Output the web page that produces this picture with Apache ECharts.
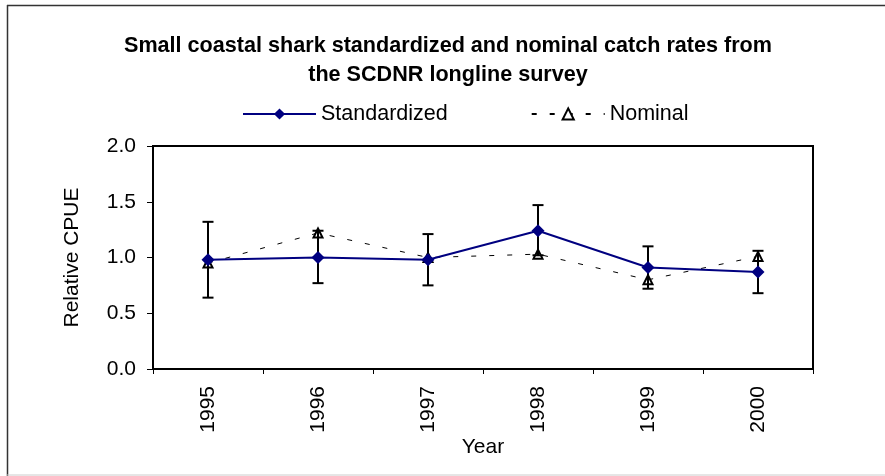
<!DOCTYPE html>
<html>
<head>
<meta charset="utf-8">
<script src="https://cdn.jsdelivr.net/npm/echarts@6/dist/echarts.min.js"></script>
<style>html,body{margin:0;padding:0;background:#fff}#c{width:885px;height:476px}</style>
</head>
<body>
<div id="c"></div>
<script>
const years = ['1995','1996','1997','1998','1999','2000'];
const standardized = [0.98, 1.00, 0.98, 1.24, 0.91, 0.87];
const stdUpper = [1.32, 1.24, 1.21, 1.47, 1.10, 1.06];
const stdLower = [0.64, 0.77, 0.75, 1.02, 0.72, 0.68];
const nominal = [0.95, 1.22, 1.00, 1.03, 0.80, 1.01];

const errData = years.map((y, i) => [i, stdLower[i], stdUpper[i]]);
const font = 'Liberation Sans, Arial, sans-serif';
const FS = 21;

const chart = echarts.init(document.getElementById('c'), null, {renderer: 'canvas'});
chart.setOption({
  animation: false,
  backgroundColor: '#fff',
  graphic: [
    {type: 'line', shape: {x1: 7, y1: 5.5, x2: 885, y2: 5.5}, style: {stroke: '#333', lineWidth: 1.5}, silent: true},
    {type: 'line', shape: {x1: 7.5, y1: 5, x2: 7.5, y2: 476}, style: {stroke: '#333', lineWidth: 1.5}, silent: true},
    {type: 'line', shape: {x1: 7, y1: 475, x2: 885, y2: 475}, style: {stroke: '#ccc', lineWidth: 1}, silent: true}
  ],
  title: {
    text: 'Small coastal shark standardized and nominal catch rates from\nthe SCDNR longline survey',
    left: 443, top: 27, textAlign: 'center',
    textStyle: {fontFamily: font, fontWeight: 'bold', fontSize: 21.6, lineHeight: 29, color: '#000'}
  },
  legend: {
    left: 242, top: 103, itemWidth: 73, itemHeight: 14, itemGap: 83, padding: 0,
    textStyle: {fontFamily: font, fontSize: 21.5, color: '#000'},
    data: ['Standardized', 'Nominal']
  },
  grid: {left: 153, top: 146, right: 72, bottom: 107, show: true, borderColor: '#000', borderWidth: 2, backgroundColor: 'transparent'},
  xAxis: {
    type: 'category', data: years, boundaryGap: true,
    name: 'Year', nameLocation: 'middle', nameGap: 68,
    nameTextStyle: {fontFamily: font, fontSize: FS, color: '#000'},
    axisLine: {lineStyle: {color: '#000', width: 2}},
    axisTick: {show: true, length: 5, lineStyle: {color: '#000', width: 1}},
    axisLabel: {rotate: 90, fontFamily: font, fontSize: FS, color: '#000', margin: 17}
  },
  yAxis: {
    type: 'value', min: 0, max: 2, interval: 0.5,
    name: 'Relative CPUE', nameLocation: 'middle', nameGap: 70,
    nameTextStyle: {fontFamily: font, fontSize: FS, color: '#000'},
    axisLine: {show: true, lineStyle: {color: '#000', width: 2}},
    axisTick: {show: true, length: 6, lineStyle: {color: '#000', width: 1}},
    splitLine: {show: false},
    axisLabel: {fontFamily: font, fontSize: FS, color: '#000', margin: 17,
      formatter: v => v.toFixed(1)}
  },
  series: [
    {
      name: 'Nominal', type: 'line', data: nominal, z: 2,
      symbol: 'triangle', symbolSize: 9,
      itemStyle: {color: '#fff', borderColor: '#000', borderWidth: 2},
      lineStyle: {color: '#000', width: 1, type: [5, 13]}
    },
    {
      name: 'errors', type: 'custom', data: errData, z: 3,
      renderItem: function (params, api) {
        const x = api.value(0);
        const lo = api.coord([x, api.value(1)]);
        const hi = api.coord([x, api.value(2)]);
        const w = 5.5;
        const st = {stroke: '#000', lineWidth: 2};
        return {type: 'group', children: [
          {type: 'line', shape: {x1: lo[0], y1: lo[1], x2: hi[0], y2: hi[1]}, style: st},
          {type: 'line', shape: {x1: lo[0]-w, y1: lo[1], x2: lo[0]+w, y2: lo[1]}, style: st},
          {type: 'line', shape: {x1: hi[0]-w, y1: hi[1], x2: hi[0]+w, y2: hi[1]}, style: st}
        ]};
      }
    },
    {
      name: 'Standardized', type: 'line', data: standardized, z: 4,
      symbol: 'diamond', symbolSize: 13,
      itemStyle: {color: '#000080'},
      lineStyle: {color: '#000080', width: 2}
    }
  ]
});
</script>
</body>
</html>
